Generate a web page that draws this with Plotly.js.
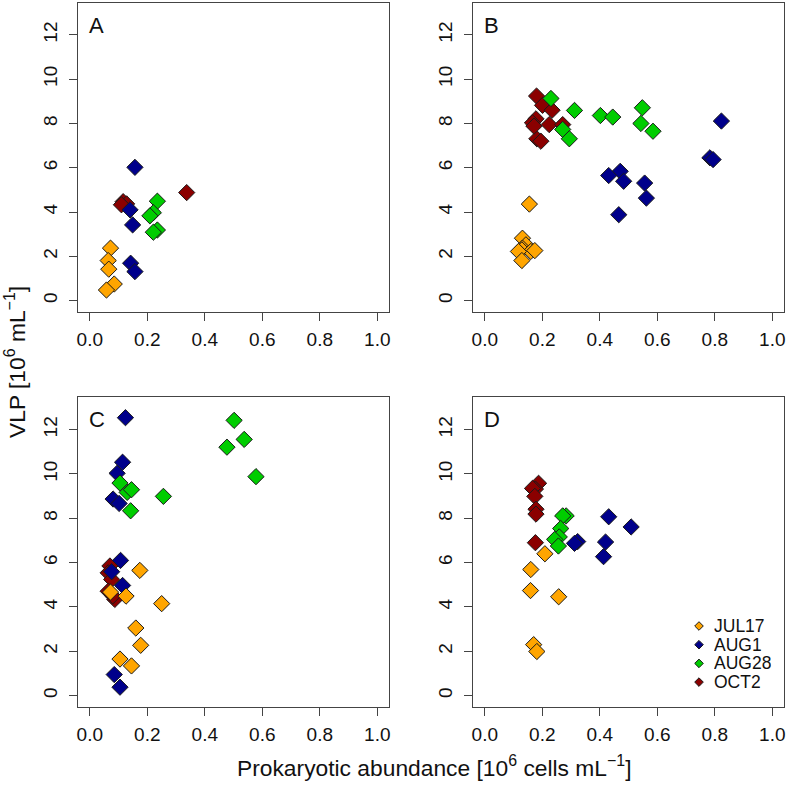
<!DOCTYPE html>
<html>
<head>
<meta charset="utf-8">
<script src="https://cdn.plot.ly/plotly-3.0.1.min.js"></script>
<style>html,body{margin:0;padding:0;background:#fff}#chart{width:787px;height:787px}</style>
</head>
<body>
<div id="chart"></div>
<script>
// ---------- data (10^6 cells/mL, 10^6 VLP/mL) ----------
const seriesNames  = ['JUL17', 'AUG1', 'AUG28', 'OCT2'];
const seriesColors = ['#FFA500', '#00008B', '#00CD00', '#8B0000'];
const panelLabels  = ['A', 'B', 'C', 'D'];
const xTickVals = [0, 0.2, 0.4, 0.6, 0.8, 1.0];
const yTickVals = [0, 2, 4, 6, 8, 10, 12];

// Panel A
const A_JUL17_x = [0.072, 0.064, 0.066, 0.085, 0.058];
const A_JUL17_y = [2.37, 1.81, 1.42, 0.75, 0.48];
const A_AUG1_x  = [0.157, 0.140, 0.149, 0.142, 0.157];
const A_AUG1_y  = [6.02, 4.10, 3.42, 1.69, 1.31];
const A_AUG28_x = [0.235, 0.221, 0.209, 0.235, 0.221];
const A_AUG28_y = [4.49, 3.97, 3.83, 3.19, 3.09];
const A_OCT2_x  = [0.116, 0.128, 0.110, 0.337];
const A_OCT2_y  = [4.47, 4.37, 4.33, 4.88];

// Panel B
const B_JUL17_x = [0.155, 0.131, 0.143, 0.131, 0.129, 0.160, 0.174, 0.117, 0.129];
const B_JUL17_y = [4.36, 2.82, 2.52, 2.37, 2.29, 2.22, 2.26, 2.22, 1.81];
const B_AUG1_x  = [0.823, 0.783, 0.794, 0.471, 0.431, 0.483, 0.556, 0.562, 0.466];
const B_AUG1_y  = [8.11, 6.45, 6.37, 5.84, 5.65, 5.39, 5.31, 4.63, 3.88];
const B_AUG28_x = [0.230, 0.312, 0.402, 0.445, 0.548, 0.543, 0.585, 0.271, 0.294];
const B_AUG28_y = [9.13, 8.59, 8.36, 8.29, 8.71, 8.00, 7.65, 7.73, 7.31];
const B_OCT2_x  = [0.180, 0.201, 0.234, 0.178, 0.166, 0.224, 0.271, 0.181, 0.195, 0.171];
const B_OCT2_y  = [9.24, 8.82, 8.60, 8.21, 8.03, 7.95, 7.95, 7.31, 7.20, 7.88];

// Panel C
const C_JUL17_x = [0.174, 0.250, 0.072, 0.126, 0.160, 0.177, 0.105, 0.145];
const C_JUL17_y = [5.65, 4.15, 4.67, 4.49, 3.05, 2.27, 1.65, 1.34];
const C_AUG1_x  = [0.124, 0.114, 0.095, 0.081, 0.102, 0.107, 0.076, 0.114, 0.085, 0.105];
const C_AUG1_y  = [12.54, 10.53, 10.03, 8.87, 8.67, 6.10, 5.59, 4.97, 0.95, 0.38];
const C_AUG28_x = [0.502, 0.537, 0.477, 0.578, 0.256, 0.105, 0.130, 0.145, 0.142];
const C_AUG28_y = [12.42, 11.56, 11.21, 9.88, 8.99, 9.59, 9.17, 9.29, 8.34];
const C_OCT2_x  = [0.070, 0.064, 0.076, 0.064, 0.087, 0.080];
const C_OCT2_y  = [5.85, 5.54, 5.24, 4.71, 4.34, 4.50];

// Panel D
const D_JUL17_x = [0.209, 0.160, 0.159, 0.257, 0.170, 0.181];
const D_JUL17_y = [6.40, 5.69, 4.74, 4.46, 2.30, 1.99];
const D_AUG1_x  = [0.431, 0.509, 0.323, 0.312, 0.420, 0.413];
const D_AUG1_y  = [8.07, 7.61, 6.95, 6.87, 6.93, 6.27];
const D_AUG28_x = [0.283, 0.271, 0.264, 0.259, 0.243, 0.256];
const D_AUG28_y = [8.11, 8.11, 7.54, 7.16, 7.05, 6.75];
const D_OCT2_x  = [0.187, 0.176, 0.166, 0.174, 0.178, 0.178, 0.176];
const D_OCT2_y  = [9.58, 9.32, 9.35, 8.99, 8.41, 8.19, 6.90];

// ---------- assemble ----------
const panelData = {
  A: {JUL17: [A_JUL17_x, A_JUL17_y], AUG1: [A_AUG1_x, A_AUG1_y], AUG28: [A_AUG28_x, A_AUG28_y], OCT2: [A_OCT2_x, A_OCT2_y]},
  B: {JUL17: [B_JUL17_x, B_JUL17_y], AUG1: [B_AUG1_x, B_AUG1_y], AUG28: [B_AUG28_x, B_AUG28_y], OCT2: [B_OCT2_x, B_OCT2_y]},
  C: {JUL17: [C_JUL17_x, C_JUL17_y], AUG1: [C_AUG1_x, C_AUG1_y], AUG28: [C_AUG28_x, C_AUG28_y], OCT2: [C_OCT2_x, C_OCT2_y]},
  D: {JUL17: [D_JUL17_x, D_JUL17_y], AUG1: [D_AUG1_x, D_AUG1_y], AUG28: [D_AUG28_x, D_AUG28_y], OCT2: [D_OCT2_x, D_OCT2_y]}
};

const W = 787, H = 787;
const FONT = 'Liberation Sans, Arial, Helvetica, sans-serif';
// pixel geometry of each panel frame: [left, right, top, bottom]
const frames = [
  [78.3, 388.8, 2.6, 311.7],
  [473.3, 783.8, 2.6, 311.7],
  [78.3, 388.8, 397.3, 706.7],
  [473.3, 783.8, 397.3, 706.7]
];
const drawOrder = ['OCT2', 'AUG1', 'AUG28', 'JUL17'];

const traces = [];
const layout = {
  width: W, height: H,
  margin: {l: 0, r: 0, t: 0, b: 0},
  paper_bgcolor: '#fff', plot_bgcolor: '#fff',
  showlegend: false,
  font: {family: FONT, color: '#111'},
  annotations: [], shapes: []
};

panelLabels.forEach((p, i) => {
  const n = i + 1;
  const xa = 'x' + (n === 1 ? '' : n), ya = 'y' + (n === 1 ? '' : n);
  const f = frames[i];
  drawOrder.forEach(s => {
    const k = seriesNames.indexOf(s);
    traces.push({
      type: 'scatter', mode: 'markers', xaxis: xa, yaxis: ya,
      x: panelData[p][s][0], y: panelData[p][s][1], name: s,
      marker: {symbol: 'diamond', size: 12.5, color: seriesColors[k], line: {color: '#1a1a1a', width: 1}},
      hoverinfo: 'x+y+name'
    });
  });
  const axCommon = {
    showgrid: false, zeroline: false, showline: true, mirror: true,
    linecolor: '#444', linewidth: 1, ticks: 'outside', ticklen: 8, tickwidth: 1, tickcolor: '#444',
    tickfont: {family: FONT, size: 19, color: '#111'}
  };
  layout['xaxis' + (n === 1 ? '' : n)] = Object.assign({}, axCommon, {
    domain: [f[0] / W, f[1] / W], anchor: ya, range: [-0.04, 1.04],
    tickvals: xTickVals, tickformat: '.1f', ticklabelstandoff: 2
  });
  layout['yaxis' + (n === 1 ? '' : n)] = Object.assign({}, axCommon, {
    domain: [1 - f[3] / H, 1 - f[2] / H], anchor: xa, range: [-0.5, 13.46],
    tickvals: yTickVals, tickangle: -90, ticklabelstandoff: 5
  });
  layout.annotations.push({
    text: p, xref: 'paper', yref: 'paper', x: (f[0] + 8.5) / W, y: 1 - (f[2] + 22.5) / H,
    xanchor: 'left', yanchor: 'middle', showarrow: false,
    font: {family: FONT, size: 22, color: '#111'}
  });
});

// axis titles
layout.annotations.push({
  text: 'Prokaryotic abundance [10<sup>6</sup> cells mL<sup>\u22121</sup>]',
  xref: 'paper', yref: 'paper', x: 434 / W, y: 1 - 766 / H, xanchor: 'center', yanchor: 'middle',
  showarrow: false, font: {family: FONT, size: 22.8, color: '#111'}
});
layout.annotations.push({
  text: 'VLP [10<sup>6</sup> mL<sup>\u22121</sup>]', textangle: -90,
  xref: 'paper', yref: 'paper', x: 15 / W, y: 1 - 362 / H, xanchor: 'center', yanchor: 'middle',
  showarrow: false, font: {family: FONT, size: 22.8, color: '#111'}
});

// legend (panel D, bottom right)
const legX = 699, legTextX = 712, legY0 = 626, legDy = 18.7;
seriesNames.forEach((s, k) => {
  const yy = 1 - (legY0 + k * legDy) / H;
  layout.shapes.push({
    type: 'path', xref: 'paper', yref: 'paper', xsizemode: 'pixel', ysizemode: 'pixel',
    xanchor: legX / W, yanchor: yy, path: 'M0,4.3 L4.3,0 L0,-4.3 L-4.3,0 Z',
    fillcolor: seriesColors[k], line: {color: '#1a1a1a', width: 1}
  });
  layout.annotations.push({
    text: s, xref: 'paper', yref: 'paper', x: legTextX / W, y: yy, xanchor: 'left', yanchor: 'middle',
    height: 18, valign: 'middle',
    showarrow: false, font: {family: FONT, size: 17.5, color: '#111'}
  });
});

Plotly.newPlot('chart', traces, layout, {displayModeBar: false, staticPlot: true});
</script>
</body>
</html>
